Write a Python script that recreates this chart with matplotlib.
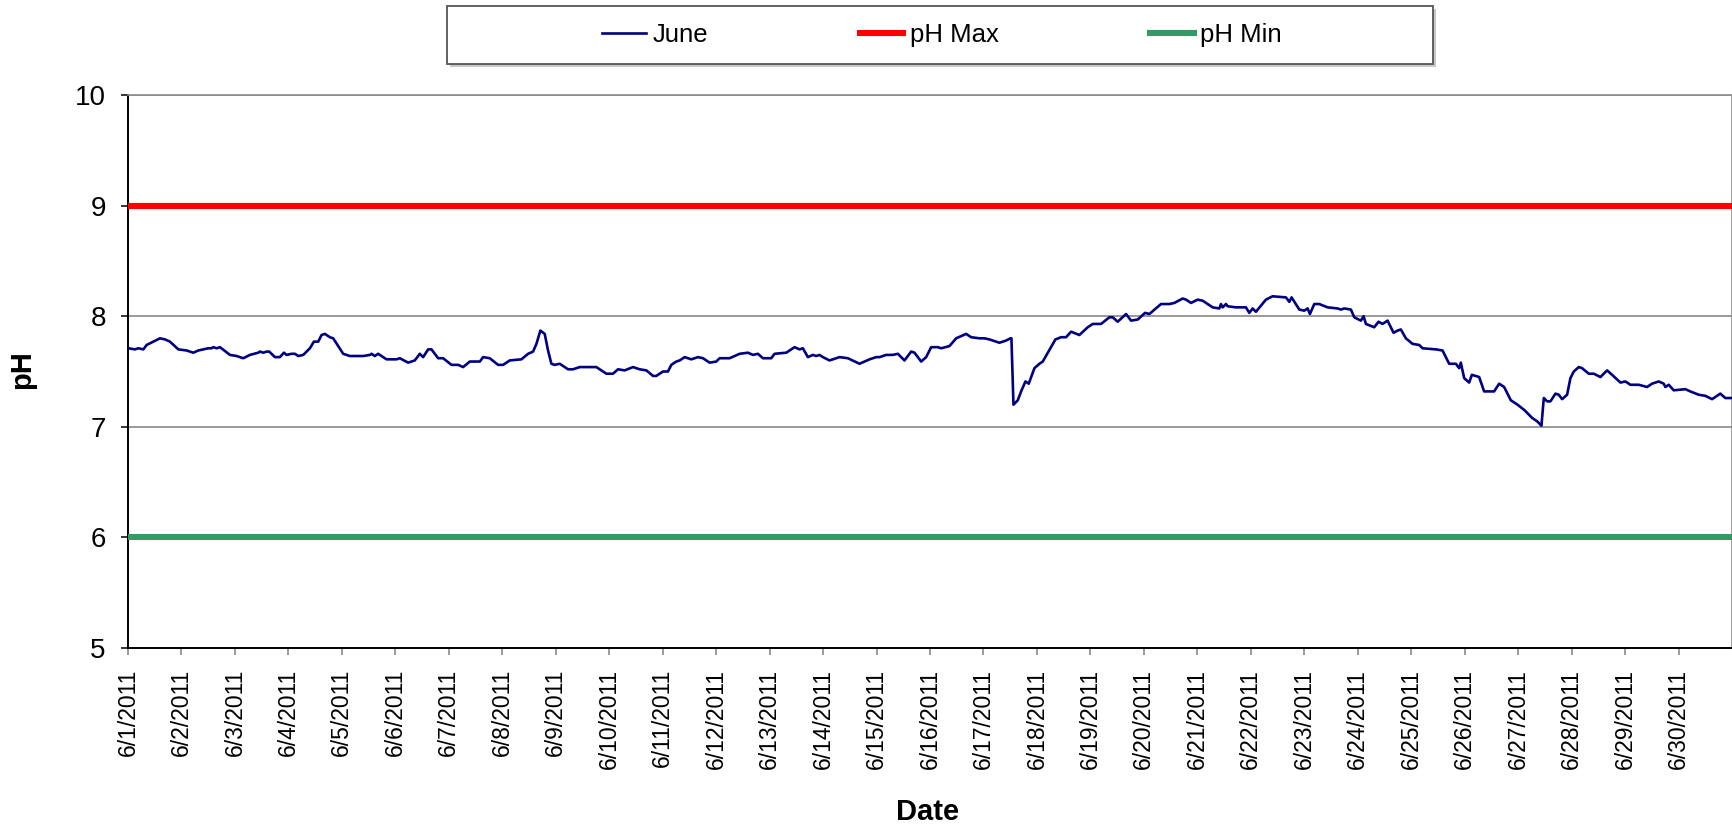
import matplotlib
matplotlib.use("Agg")
import matplotlib.pyplot as plt
from matplotlib.patches import Rectangle
from matplotlib.lines import Line2D
import pandas as pd
import numpy as np

plt.rcParams['font.family'] = ['Liberation Sans', 'DejaVu Sans']

# ---- data (day offset from 6/1/2011 00:00, pH) ----
june_day = [
    0.006, 0.131, 0.193, 0.287, 0.349, 0.598, 0.692, 0.785, 0.941, 1.097, 1.221, 1.315,
    1.502, 1.564, 1.595, 1.658, 1.720, 1.907, 2.031, 2.156, 2.280, 2.436, 2.467, 2.530,
    2.592, 2.642, 2.748, 2.841, 2.916, 2.966, 3.059, 3.122, 3.184, 3.277, 3.402, 3.477,
    3.558, 3.620, 3.682, 3.776, 3.838, 4.025, 4.150, 4.274, 4.399, 4.524, 4.555, 4.617,
    4.679, 4.835, 5.022, 5.084, 5.240, 5.364, 5.458, 5.520, 5.614, 5.676, 5.801, 5.894,
    6.050, 6.175, 6.268, 6.393, 6.580, 6.642, 6.766, 6.922, 7.016, 7.140, 7.358, 7.483,
    7.576, 7.639, 7.713, 7.794, 7.856, 7.919, 7.981, 8.075, 8.230, 8.324, 8.448, 8.573,
    8.760, 8.947, 9.071, 9.165, 9.289, 9.445, 9.570, 9.695, 9.819, 9.881, 10.006, 10.099,
    10.162, 10.255, 10.318, 10.411, 10.536, 10.660, 10.754, 10.878, 11.003, 11.065, 11.252,
    11.439, 11.595, 11.688, 11.782, 11.875, 12.031, 12.093, 12.311, 12.467, 12.561, 12.623,
    12.716, 12.810, 12.872, 12.934, 12.997, 13.121, 13.308, 13.464, 13.682, 13.869, 13.994,
    14.056, 14.181, 14.305, 14.399, 14.523, 14.648, 14.710, 14.835, 14.928, 15.022, 15.146,
    15.209, 15.364, 15.489, 15.676, 15.769, 15.925, 16.019, 16.112, 16.299, 16.424, 16.505,
    16.523, 16.561, 16.642, 16.704, 16.785, 16.847, 16.953, 17.047, 17.109, 17.346, 17.452,
    17.545, 17.639, 17.794, 17.950, 18.044, 18.199, 18.355, 18.417, 18.511, 18.667, 18.760,
    18.885, 19.022, 19.103, 19.321, 19.477, 19.570, 19.726, 19.788, 19.882, 20.006, 20.100,
    20.193, 20.287, 20.411, 20.442, 20.473, 20.536, 20.567, 20.723, 20.785, 20.909, 20.972,
    21.034, 21.096, 21.283, 21.408, 21.657, 21.720, 21.763, 21.907, 22.000, 22.062, 22.106,
    22.187, 22.280, 22.436, 22.623, 22.685, 22.748, 22.872, 22.935, 23.059, 23.109, 23.153,
    23.308, 23.389, 23.464, 23.558, 23.670, 23.745, 23.807, 23.900, 24.025, 24.150, 24.212,
    24.461, 24.586, 24.710, 24.835, 24.897, 24.928, 24.991, 25.084, 25.134, 25.271, 25.364,
    25.551, 25.645, 25.738, 25.863, 25.988, 26.120, 26.262, 26.355, 26.436, 26.480, 26.542,
    26.604, 26.698, 26.760, 26.823, 26.916, 26.978, 27.041, 27.134, 27.196, 27.321, 27.415,
    27.539, 27.664, 27.757, 27.913, 28.007, 28.100, 28.256, 28.412, 28.505, 28.630, 28.723,
    28.754, 28.817, 28.910, 29.128, 29.221, 29.377, 29.502, 29.627, 29.688, 29.782, 29.875,
    29.988,
]
june_ph = [
    7.71, 7.70, 7.71, 7.70, 7.74, 7.80, 7.79, 7.77, 7.70, 7.69, 7.67, 7.69,
    7.71, 7.71, 7.72, 7.71, 7.72, 7.65, 7.64, 7.62, 7.65, 7.67, 7.68, 7.67,
    7.68, 7.68, 7.63, 7.63, 7.67, 7.65, 7.66, 7.66, 7.64, 7.65, 7.71, 7.77,
    7.77, 7.83, 7.84, 7.81, 7.80, 7.66, 7.64, 7.64, 7.64, 7.65, 7.66, 7.64,
    7.66, 7.61, 7.61, 7.62, 7.58, 7.60, 7.66, 7.63, 7.70, 7.70, 7.62, 7.62,
    7.56, 7.56, 7.54, 7.59, 7.59, 7.63, 7.62, 7.56, 7.56, 7.60, 7.61, 7.66,
    7.68, 7.75, 7.87, 7.84, 7.69, 7.57, 7.56, 7.57, 7.52, 7.52, 7.54, 7.54,
    7.54, 7.48, 7.48, 7.52, 7.51, 7.54, 7.52, 7.51, 7.46, 7.46, 7.50, 7.50,
    7.56, 7.59, 7.60, 7.63, 7.61, 7.63, 7.62, 7.58, 7.59, 7.62, 7.62,
    7.66, 7.67, 7.65, 7.66, 7.62, 7.62, 7.66, 7.67, 7.72, 7.70, 7.71,
    7.63, 7.65, 7.64, 7.65, 7.63, 7.60, 7.63, 7.62, 7.57, 7.61, 7.63,
    7.63, 7.65, 7.65, 7.66, 7.60, 7.68, 7.67, 7.59, 7.63, 7.72, 7.72,
    7.71, 7.73, 7.80, 7.84, 7.81, 7.80, 7.80, 7.79, 7.76, 7.78, 7.80,
    7.80, 7.20, 7.24, 7.32, 7.41, 7.39, 7.53, 7.57, 7.59, 7.79, 7.81,
    7.81, 7.86, 7.83, 7.90, 7.93, 7.93, 7.99, 7.99, 7.95, 8.02, 7.96,
    7.97, 8.03, 8.02, 8.11, 8.11, 8.12, 8.16, 8.15, 8.12, 8.15, 8.14,
    8.11, 8.08, 8.07, 8.11, 8.08, 8.11, 8.09, 8.08, 8.08, 8.08, 8.03,
    8.07, 8.04, 8.15, 8.18, 8.17, 8.13, 8.17, 8.06, 8.05, 8.07, 8.02,
    8.11, 8.11, 8.08, 8.07, 8.06, 8.07, 8.06, 7.99, 7.96, 8.00, 7.93,
    7.90, 7.95, 7.93, 7.96, 7.85, 7.87, 7.88, 7.80, 7.75, 7.74, 7.71,
    7.70, 7.69, 7.57, 7.57, 7.53, 7.58, 7.44, 7.40, 7.47, 7.45, 7.32,
    7.32, 7.39, 7.36, 7.24, 7.20, 7.15, 7.08, 7.05, 7.01, 7.26, 7.23,
    7.23, 7.30, 7.29, 7.25, 7.29, 7.44, 7.50, 7.54, 7.53, 7.48, 7.48,
    7.45, 7.51, 7.47, 7.40, 7.41, 7.38, 7.38, 7.36, 7.39, 7.41, 7.39,
    7.36, 7.38, 7.33, 7.34, 7.32, 7.29, 7.28, 7.25, 7.27, 7.30, 7.26,
    7.26,
]
ph_max = 9
ph_min = 6
series_labels = ["June", "pH Max", "pH Min"]
tick_days = list(range(1, 31))
tick_labels = [f"6/{d}/2011" for d in tick_days]
y_ticks = [5, 6, 7, 8, 9, 10]

# ---- figure ----
W, H = 1733, 827
fig = plt.figure(figsize=(W / 100, H / 100), dpi=100)
ax = fig.add_axes([128 / W, 1 - 648 / H, (1732 - 128) / W, (648 - 95) / H])

base = pd.Timestamp("2011-06-01")
t = base + pd.to_timedelta(np.array(june_day), unit="D")
x0 = base
x1 = pd.Timestamp("2011-07-01")

for yv in y_ticks[1:]:
    ax.axhline(yv, color="#7f7f7f", lw=1.1, zorder=1)

ax.plot([x0, x1], [ph_max, ph_max], color="#FF0000", lw=4.4, solid_capstyle="butt", zorder=3)
ax.plot([x0, x1], [ph_min, ph_min], color="#339966", lw=4.4, solid_capstyle="butt", zorder=3)
ax.plot(t, june_ph, color="#000080", lw=1.9, zorder=4)

ax.set_xlim(x0, x1)
ax.set_ylim(5, 10)
ax.set_yticks(y_ticks)
ax.set_yticklabels([str(v) for v in y_ticks], fontsize=20)
ticks = [pd.Timestamp(f"2011-06-{d:02d}") for d in tick_days]
ax.set_xticks(ticks)
ax.set_xticklabels(tick_labels, rotation=90, fontsize=16.5)
ax.tick_params(axis="y", direction="out", length=5, width=1.1, pad=11, color="black")
ax.tick_params(axis="x", direction="out", length=5, width=1.1, pad=10, color="#7f7f7f")

for s in ["left", "bottom"]:
    ax.spines[s].set_color("black")
    ax.spines[s].set_linewidth(1.4)
for s in ["top", "right"]:
    ax.spines[s].set_color("#8c8c8c")
    ax.spines[s].set_linewidth(1.2)

fig.text(22 / W, 1 - 370 / H, "pH", rotation=90, fontsize=21, fontweight="bold",
         ha="center", va="center")
fig.text(928 / W, 1 - 812 / H, "Date", fontsize=21, fontweight="bold",
         ha="center", va="center")

# legend box with shadow
fig.patches.append(Rectangle((450 / W, 1 - 67 / H), 986 / W, 58 / H, transform=fig.transFigure,
                             facecolor="#c8c8c8", edgecolor="none", zorder=0))
fig.patches.append(Rectangle((447 / W, 1 - 64 / H), 986 / W, 58 / H, transform=fig.transFigure,
                             facecolor="white", edgecolor="#555555", lw=1.3, zorder=1))
handles = [Line2D([], [], color="#000080", lw=1.9),
           Line2D([], [], color="#FF0000", lw=4.4),
           Line2D([], [], color="#339966", lw=4.4)]
leg = fig.legend(handles, series_labels, loc="center", bbox_to_anchor=(942 / W, 1 - 35 / H),
                 ncol=3, frameon=False, fontsize=18.5, handlelength=1.7, handletextpad=0.25,
                 columnspacing=5.9)
leg.set_zorder(5)

fig.savefig("out.png", dpi=100)
